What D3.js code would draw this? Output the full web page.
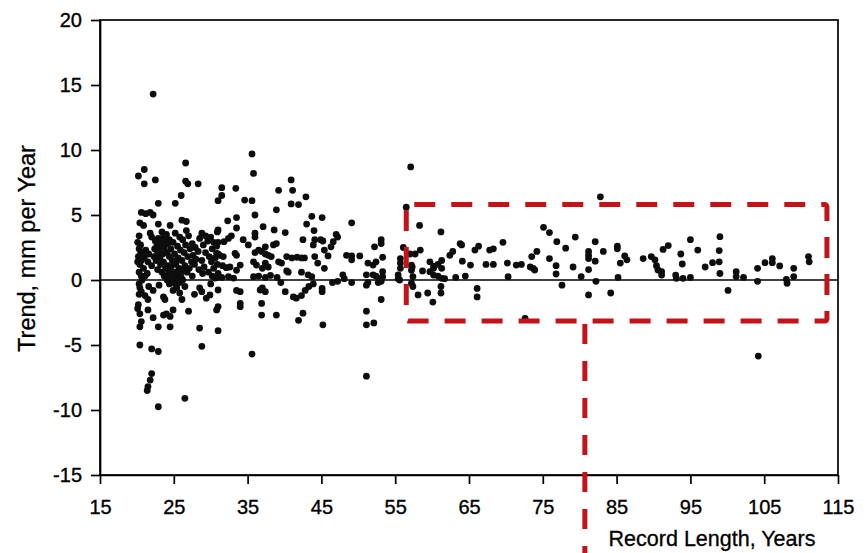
<!DOCTYPE html>
<html>
<head>
<meta charset="utf-8">
<script src="https://cdn.jsdelivr.net/npm/d3@7/dist/d3.min.js"></script>
<style>
  html, body { margin: 0; padding: 0; background: #fff; }
  svg { display: block; }
  text { font-family: "Liberation Sans", Arial, Helvetica, sans-serif; fill: #000; }
</style>
</head>
<body>
<svg id="chart" width="868" height="553"></svg>
<script>
// Tick values of both axes
const xTicks = [15, 25, 35, 45, 55, 65, 75, 85, 95, 105, 115];
const yTicks = [-15, -10, -5, 0, 5, 10, 15, 20];

// Stations with records of roughly 20-31 years: [record length (years), trend (mm/yr)]
const shortRecords = [
  [22.2,14.3],[26.6,9.0],[21.0,8.5],[20.2,8.0],[21.0,7.4],[22.5,7.7],[26.6,7.6],[26.9,7.4],[28.3,7.4],
  [26.0,6.5],[25.2,5.9],[22.9,5.9],[31.0,6.1],[20.6,5.2],[21.2,5.1],[21.8,5.2],[22.2,5.0],[20.4,4.4],
  [20.9,4.2],[22.9,4.3],[24.5,4.2],[26.1,4.6],[26.7,4.5],[21.8,3.6],[22.0,3.3],
  [23.4,3.7],[24.0,3.5],[25.2,3.6],[26.7,3.8],[28.8,3.6],[29.3,3.4],[30.9,3.7],
  [22.9,3.2],[23.6,3.3],[24.4,3.1],[25.8,3.3],[27.0,3.4],[28.5,3.2],[30.0,3.3],
  [22.5,3.0],[23.1,2.9],[23.8,3.0],[24.9,2.9],[26.2,3.1],[27.5,2.8],[29.6,3.0],[30.4,2.9],
  [20.5,2.7],[22.7,2.6],[23.3,2.7],[24.2,2.8],[25.5,2.6],[26.6,2.7],[27.9,2.5],[29.0,2.7],[30.8,2.6],
  [20.3,2.4],[21.2,2.3],[22.4,2.4],[23.0,2.3],[23.7,2.5],[24.6,2.4],[25.9,2.3],[27.2,2.4],[28.3,2.2],[30.2,2.4],
  [20.8,2.1],[21.6,2.0],[22.8,2.1],[23.5,2.0],[24.1,2.1],[25.1,2.0],[26.4,2.1],[27.6,1.9],[29.3,2.1],[31.0,2.0],
  [20.2,1.8],[21.0,1.7],[22.3,1.8],[23.1,1.7],[24.4,1.8],[25.6,1.7],[26.9,1.8],[28.0,1.6],[29.8,1.8],[30.6,1.7],
  [20.6,1.5],[21.5,1.4],[22.6,1.5],[23.6,1.4],[24.8,1.5],[25.3,1.3],[26.1,1.5],[27.4,1.4],[28.8,1.5],[30.1,1.4],
  [20.4,1.2],[22.0,1.1],[23.2,1.2],[24.2,1.1],[25.0,1.2],[26.5,1.1],[27.8,1.2],[29.1,1.0],[30.9,1.2],
  [20.9,0.9],[22.8,0.8],[23.9,0.9],[24.6,0.8],[25.7,0.9],[26.3,0.7],[27.1,0.9],[28.4,0.8],[30.4,0.9],
  [20.3,0.6],[21.4,0.5],[23.4,0.6],[24.3,0.5],[25.1,0.6],[25.9,0.5],[26.8,0.6],[28.9,0.5],[29.7,0.6],[31.0,0.5],
  [21.1,0.3],[23.7,0.3],[24.5,0.2],[25.4,0.3],[26.0,0.2],[27.5,0.3],[30.2,0.3],[30.8,0.2],
  [20.7,0.0],[24.1,0.0],[24.8,0.1],[25.5,-0.1],[26.2,0.0],
  [20.3,-0.3],[24.4,-0.3],[25.2,-0.3],[25.8,-0.2],[30.0,-0.3],
  [20.3,3.4],[20.1,2.9],[20.5,2.0],[20.1,1.4],[20.6,0.3],
  [20.4,-0.6],[20.6,-0.9],[20.3,-1.1],[21.1,-1.2],[20.2,-1.9],[21.5,-1.5],[20.1,-2.2],[22.2,-0.8],
  [23.6,-1.3],[23.8,-1.5],[24.9,-0.8],[25.4,-0.6],[25.8,-1.0],[26.1,-1.5],[28.5,-0.6],[28.8,-0.9],
  [29.9,-1.15],[31.0,-0.77],[30.8,-2.3],[20.4,-2.6],[20.6,-3.2],[20.4,-3.6],[21.5,-2.3],[22.2,-2.9],
  [22.9,-3.6],[24.5,-3.6],[23.6,-2.7],[24.0,-2.6],[24.5,-2.8],[24.9,-2.3],[27.0,-2.4],[28.5,-3.7],
  [28.8,-5.1],[31.0,-2.05],[31.0,-3.9],[20.4,-5.0],[22.0,-5.3],[22.9,-5.5],[22.0,-7.2],[21.8,-7.7],
  [21.5,-8.2],[21.4,-8.5],[22.9,-9.75],[26.5,-9.1],[26.5,-0.5],[27.8,-1.1],[29.4,-1.4],[23.0,-0.4],[21.6,-0.5]
];

// Stations with records of roughly 31-45 years
const mediumRecords = [
  [35.6,9.7],[35.8,8.2],[31.5,7.1],[31.5,6.5],[33.4,7.05],[34.6,6.15],[35.6,6.1],[39.2,6.9],[40.9,7.7],
  [41.1,6.9],[40.9,5.85],[41.9,5.8],[42.9,6.4],[38.9,5.4],[36.0,5.0],[33.5,4.8],[32.3,4.55],[43.7,4.9],
  [43.0,4.3],[31.0,3.85],[33.5,4.0],[37.1,4.1],[38.6,3.85],[40.1,3.65],[44.0,3.8],[36.0,3.6],[36.0,3.3],
  [32.8,3.4],[32.4,3.2],[31.8,2.95],[34.4,3.1],[31.0,2.9],[42.5,3.1],[44.1,3.1],[37.4,2.55],[38.5,2.7],
  [38.9,2.8],[35.1,2.7],[43.9,2.7],[33.3,2.05],[33.5,1.9],[36.0,2.1],[36.5,2.3],[36.9,2.2],[37.4,2.0],
  [37.8,1.9],[38.2,1.8],[30.8,2.05],[31.2,1.9],[31.7,1.8],[40.3,1.8],[41.0,1.7],[41.7,1.75],[42.3,1.7],
  [42.7,1.7],[44.1,1.8],[39.2,1.4],[39.6,1.3],[35.8,1.4],[36.2,1.15],[37.4,1.3],[37.8,1.0],[37.0,0.9],
  [31.6,1.1],[32.1,0.95],[32.6,1.0],[34.0,1.15],[33.5,0.75],[40.3,0.7],[40.5,0.6],[42.3,0.6],[43.2,0.4],
  [43.7,0.25],[30.6,0.15],[31.5,0.2],[32.4,0.25],[33.1,0.15],[35.8,0.25],[36.5,0.3],[37.4,0.2],[38.1,0.35],
  [33.5,-0.8],[34.0,-0.9],[37.0,-0.6],[37.4,-0.9],[40.1,-0.9],[41.2,-1.3],[41.6,-1.4],[42.3,-1.2],
  [42.8,-0.8],[43.3,-0.5],[43.9,-0.3],[34.0,-1.8],[34.0,-2.05],[36.9,-1.8],[36.9,-2.7],[38.9,-2.7],
  [42.5,-2.55],[41.9,-3.1],[35.6,-5.7],[36.7,-0.77],[39.0,0.2],[39.5,-0.2]
];

// Stations with records of roughly 45-57 years
const longRecords = [
  [45.1,4.8],[49.1,4.4],[44.9,3.1],[45.2,3.0],[47.0,3.5],[47.2,3.3],[46.6,2.95],[46.3,2.55],[45.4,2.3],
  [45.9,1.85],[48.4,1.9],[49.1,1.85],[49.1,1.55],[50.2,1.85],[53.1,3.1],[53.1,2.8],[52.2,2.55],[53.3,1.75],
  [51.3,1.3],[52.0,1.15],[52.4,1.4],[44.5,1.3],[45.4,0.9],[47.9,0.4],[48.1,0.1],[47.2,-0.1],[46.5,-0.2],
  [49.1,-0.2],[51.1,0.4],[51.3,-0.2],[52.0,0.4],[52.4,0.3],[52.9,0.1],[53.1,-0.1],[52.7,-0.2],[51.1,-0.4],
  [45.1,-0.65],[45.1,-0.9],[53.1,-1.5],[51.1,-2.4],[45.2,-3.45],[51.1,-3.45],[52.1,-3.3],[51.1,-7.4],
  [57.1,8.7],[56.5,5.6],[56.1,2.5],[57.0,2.0],[55.7,1.65],[55.7,1.3],[55.7,0.9],[55.4,0.4],[55.4,0.1],
  [55.6,0.0],[57.2,1.15],[57.2,0.75],[57.2,-0.25],[53.3,0.65],[53.3,0.25]
];

// Stations with records longer than about 57 years
const veryLongRecords = [
  [58.3,4.2],[61.2,3.7],[82.8,6.4],[57.7,2.0],[58.4,2.3],[57.3,1.0],[58.7,0.7],[59.7,1.4],[59.7,0.64],
  [60.2,1.07],[60.2,0.9],[60.8,1.2],[61.3,1.5],[61.3,0.9],[60.2,0.38],[60.8,0.3],[61.3,0.13],[61.7,0.1],
  [57.4,0.26],[57.4,-0.5],[58.1,-1.15],[59.4,-1.0],[60.1,-1.7],[61.2,-1.0],[61.2,-0.5],[62.4,1.9],
  [62.8,2.2],[63.8,2.8],[64.0,2.7],[63.2,0.2],[64.1,1.45],[64.5,0.3],[65.2,1.15],[65.8,2.3],[66.3,2.6],
  [66.1,-0.65],[66.1,-1.3],[67.3,1.2],[68.3,1.2],[67.8,2.3],[68.3,2.4],[69.6,2.9],[70.2,1.3],[70.3,0.25],
  [71.4,1.15],[72.1,1.2],[73.5,1.8],[74.2,2.2],[73.3,1.0],[73.7,0.9],[73.9,0.77],[72.6,-2.95],[75.1,4.05],
  [75.9,3.65],[75.9,1.65],[76.9,2.95],[76.8,1.1],[76.8,0.46],[78.1,2.45],[77.6,-0.4],[79.4,3.3],[79.1,1.0],
  [80.2,0.26],[81.2,2.2],[81.2,1.9],[81.2,1.65],[81.2,0.8],[81.2,-1.15],[82.1,2.95],[82.1,1.45],[82.2,-0.1],
  [83.2,2.2],[84.2,-1.0],[85.1,2.6],[85.1,2.4],[85.2,0.2],[85.5,1.3],[86.1,1.85],[86.4,1.55],[88.6,1.65],
  [89.7,1.8],[90.2,1.55],[90.4,1.1],[90.6,0.77],[91.1,0.64],[91.1,0.38],[91.3,2.35],[92.0,2.65],[93.0,0.38],
  [93.1,0.13],[93.7,2.0],[93.9,1.23],[94.0,0.13],[95.0,0.2],[95.0,3.1],[96.0,2.3],[97.0,1.0],[98.0,1.33],
  [99.0,3.33],[98.9,2.26],[98.9,1.4],[99.0,0.5],[100.1,-0.8],[101.2,0.64],[101.2,0.26],[102.2,0.2],
  [104.1,0.9],[104.1,-0.1],[105.1,1.33],[106.1,1.65],[106.1,1.33],[107.1,1.08],[108.0,0.05],[108.1,-0.25],
  [109.0,0.9],[109.0,0.26],[111.0,1.8],[111.1,1.4],[104.2,-5.85]
];

// Highlighted window of long records, and the leader running down from it
const highlightX = [56.5, 113.5];
const highlightY = [-3.15, 5.8];
const leaderX = 80.7;

const svg = d3.select("#chart");
const W = 868, H = 553;
const margin = { left: 100, right: 30, top: 20, bottom: 78 };

const x = d3.scaleLinear().domain([15, 115]).range([margin.left, W - margin.right]);
const y = d3.scaleLinear().domain([-15, 20]).range([H - margin.bottom, margin.top]);

const ink = "#000";
const red = "#c41318";

// Frame around the plot area
svg.append("rect")
  .attr("x", x(15)).attr("y", y(20))
  .attr("width", x(115) - x(15)).attr("height", y(-15) - y(20))
  .attr("fill", "none").attr("stroke", ink).attr("stroke-width", 1.7);

// Zero reference line
svg.append("line")
  .attr("x1", x(15)).attr("x2", x(115))
  .attr("y1", y(0)).attr("y2", y(0))
  .attr("stroke", ink).attr("stroke-width", 1.7);

// Axes
const xAxis = svg.append("g")
  .attr("transform", `translate(0,${y(-15)})`)
  .call(d3.axisBottom(x).tickValues(xTicks).tickFormat(d3.format("d")).tickSize(9).tickSizeOuter(0).tickPadding(16));
const yAxis = svg.append("g")
  .attr("transform", `translate(${x(15)},0)`)
  .call(d3.axisLeft(y).tickValues(yTicks).tickFormat(d => d < 0 ? "-" + Math.abs(d) : String(d)).tickSize(9).tickSizeOuter(0).tickPadding(9));

[xAxis, yAxis].forEach(g => {
  g.select(".domain").attr("stroke", ink).attr("stroke-width", 1.7);
  g.selectAll(".tick line").attr("stroke", ink).attr("stroke-width", 1.7);
  g.selectAll(".tick text")
    .attr("fill", ink)
    .attr("stroke", ink).attr("stroke-width", 0.35)
    .style("font-family", '"Liberation Sans", Arial, sans-serif')
    .style("font-size", "20px");
});

// Axis titles
svg.append("text")
  .attr("x", 712).attr("y", 546)
  .attr("text-anchor", "middle")
  .attr("stroke", ink).attr("stroke-width", 0.3)
  .style("font-size", "21.5px")
  .text("Record Length, Years");

svg.append("text")
  .attr("transform", `translate(35,${(y(20) + y(-15)) / 2 + 1}) rotate(-90)`)
  .attr("text-anchor", "middle")
  .attr("stroke", ink).attr("stroke-width", 0.3)
  .style("font-size", "23.5px")
  .text("Trend, mm per Year");

// Station trends
const allPoints = [].concat(shortRecords, mediumRecords, longRecords, veryLongRecords);
svg.append("g")
  .selectAll("circle")
  .data(allPoints)
  .join("circle")
  .attr("cx", d => x(d[0]))
  .attr("cy", d => y(d[1]))
  .attr("r", 3.4)
  .attr("fill", "#0d0d0d");

// Dashed highlight box and leader line
const dash = "21 16";
svg.append("rect")
  .attr("x", x(highlightX[0])).attr("y", y(highlightY[1]))
  .attr("width", x(highlightX[1]) - x(highlightX[0]))
  .attr("height", y(highlightY[0]) - y(highlightY[1]))
  .attr("rx", 2)
  .attr("fill", "none")
  .attr("stroke", red).attr("stroke-width", 5)
  .attr("stroke-dasharray", dash)
  .attr("stroke-dashoffset", -6);

svg.append("line")
  .attr("x1", x(leaderX)).attr("x2", x(leaderX))
  .attr("y1", y(highlightY[0]) + 3).attr("y2", H)
  .attr("stroke", red).attr("stroke-width", 5)
  .attr("stroke-dasharray", "20 17");
</script>
</body>
</html>
